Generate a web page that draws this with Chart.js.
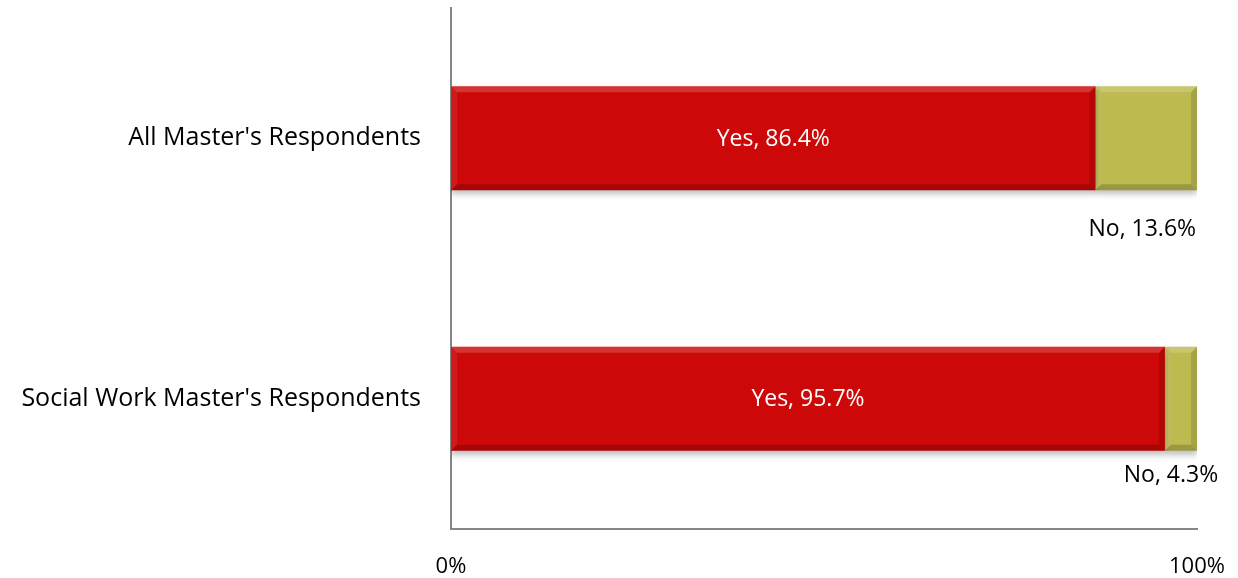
<!DOCTYPE html>
<html>
<head>
<meta charset="utf-8">
<script src="https://cdn.jsdelivr.net/npm/chart.js@4.4.1/dist/chart.umd.min.js"></script>
<style>
  html, body { margin: 0; padding: 0; background: #fff; }
  #wrap { width: 1238px; height: 578px; }
</style>
</head>
<body>
<div id="wrap"><canvas id="surveyChart" width="1238" height="578"></canvas></div>
<script>
const categories = ["All Master's Respondents", "Social Work Master's Respondents"];
const yesValues = [86.4, 95.7];
const noValues = [13.6, 4.3];
const xTicks = [0, 100];

const FONT = "'Open Sans', sans-serif";

// bevel edges + value labels, drawn on top of the bars
const bevelLabels = {
  id: "bevelLabels",
  beforeDatasetDraw(chart) {
    const ctx = chart.ctx;
    ctx.save();
    ctx.shadowColor = "rgba(0,0,0,0.25)";
    ctx.shadowBlur = 6;
    ctx.shadowOffsetY = 4;
  },
  afterDatasetDraw(chart, args) {
    const ctx = chart.ctx;
    ctx.restore();
    const meta = args.meta;
    meta.data.forEach((bar) => {
      const { x, y, base, height } = bar.getProps(["x", "y", "base", "height"], true);
      const l = base, r = x, t = y - height / 2, b = y + height / 2;
      const e = 6;
      ctx.save();
      // top highlight
      ctx.fillStyle = "rgba(255,255,255,0.18)";
      ctx.beginPath();
      ctx.moveTo(l, t); ctx.lineTo(r, t); ctx.lineTo(r - e, t + e); ctx.lineTo(l + e, t + e);
      ctx.closePath(); ctx.fill();
      // left highlight
      ctx.fillStyle = "rgba(255,255,255,0.08)";
      ctx.beginPath();
      ctx.moveTo(l, t); ctx.lineTo(l + e, t + e); ctx.lineTo(l + e, b - e); ctx.lineTo(l, b);
      ctx.closePath(); ctx.fill();
      // bottom shade
      ctx.fillStyle = "rgba(0,0,0,0.18)";
      ctx.beginPath();
      ctx.moveTo(l, b); ctx.lineTo(r, b); ctx.lineTo(r - e, b - e); ctx.lineTo(l + e, b - e);
      ctx.closePath(); ctx.fill();
      // right shade
      ctx.fillStyle = "rgba(0,0,0,0.12)";
      ctx.beginPath();
      ctx.moveTo(r, t); ctx.lineTo(r, b); ctx.lineTo(r - e, b - e); ctx.lineTo(r - e, t + e);
      ctx.closePath(); ctx.fill();
      ctx.restore();
    });
  },
  afterDatasetsDraw(chart, args, opts) {
    const ctx = chart.ctx;
    ctx.save();
    ctx.font = "23px " + FONT;
    ctx.textAlign = "center";
    ctx.textBaseline = "middle";
    chart.data.datasets.forEach((ds, di) => {
      const meta = chart.getDatasetMeta(di);
      meta.data.forEach((bar, i) => {
        const { x, y, base, height } = bar.getProps(["x", "y", "base", "height"], true);
        const text = ds.label + ", " + ds.data[i].toFixed(1) + "%";
        if (di === 0) {
          ctx.fillStyle = "#ffffff";
          ctx.fillText(text, (x + base) / 2, y + 1);
        } else {
          ctx.fillStyle = "#000000";
          const off = opts.below[i];
          ctx.fillText(text, (x + base) / 2 + off[0], y + height / 2 + off[1]);
        }
      });
    });
    ctx.restore();
  },
};

new Chart(document.getElementById("surveyChart"), {
  type: "bar",
  data: {
    labels: categories,
    datasets: [
      {
        label: "Yes",
        data: yesValues,
        backgroundColor: "#cc0808",
        barPercentage: 0.5,
        categoryPercentage: 0.8,
      },
      {
        label: "No",
        data: noValues,
        backgroundColor: "#bdba50",
        barPercentage: 0.5,
        categoryPercentage: 0.8,
      },
    ],
  },
  options: {
    indexAxis: "y",
    responsive: false,
    animation: false,
    layout: { padding: { top: 8, right: 41, left: 0, bottom: 0 } },
    plugins: {
      legend: { display: false },
      tooltip: { enabled: false },
      bevelLabels: { below: [[-4, 39], [-10, 25]] },
    },
    scales: {
      x: {
        stacked: true,
        min: 0,
        max: 100,
        afterBuildTicks: (axis) => { axis.ticks = xTicks.map((v) => ({ value: v })); },
        afterFit: (axis) => { axis.height = 49; axis.paddingLeft = 0; axis.paddingRight = 0; },
        grid: { display: false },
        border: { display: true, color: "#868686", width: 2 },
        ticks: {
          color: "#000",
          font: { family: FONT, size: 22 },
          padding: 17,
          callback: (v) => v + "%",
        },
      },
      y: {
        stacked: true,
        afterFit: (axis) => { axis.width = 451; axis.paddingTop = 0; axis.paddingBottom = 0; },
        grid: { display: false },
        border: { display: true, color: "#868686", width: 2 },
        ticks: {
          color: "#000",
          font: { family: FONT, size: 25 },
          padding: 22,
        },
      },
    },
  },
  plugins: [bevelLabels],
});
</script>
</body>
</html>
